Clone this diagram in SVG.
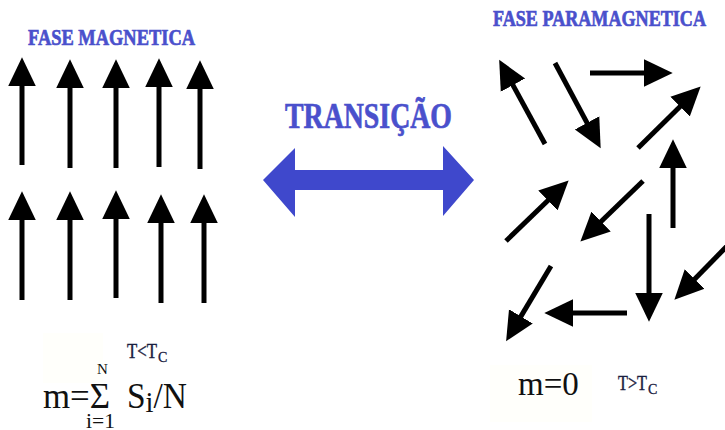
<svg xmlns="http://www.w3.org/2000/svg" width="725" height="430" viewBox="0 0 725 430">
<style>
.t{font-family:"Liberation Serif","Times New Roman",serif;}
.title{font-family:"Liberation Serif","Times New Roman",serif;font-weight:bold;fill:#4a50cc;stroke:#4a50cc;stroke-width:0.7;}
.spin{stroke:#000;stroke-width:5;fill:none;marker-end:url(#head);}
</style>
<defs>
<marker id="head" markerUnits="userSpaceOnUse" markerWidth="30" markerHeight="30" viewBox="0 -13 26 26" refX="1" refY="0" orient="auto">
<path d="M0,-12 L25,0 L0,12 Z" fill="#000"/>
</marker>
</defs>
<rect width="725" height="430" fill="#fff"/>

<g id="titles">
<text class="title" x="28" y="45" font-size="23" textLength="167" lengthAdjust="spacingAndGlyphs">FASE MAGNETICA</text>
<text class="title" x="493" y="26" font-size="23" textLength="213" lengthAdjust="spacingAndGlyphs">FASE PARAMAGNETICA</text>
<text class="title" x="285" y="128" font-size="35" textLength="167" lengthAdjust="spacingAndGlyphs">TRANSIÇÃO</text>
</g>

<g id="transition-arrow">
<path d="M263,180 L295,148 L295,170 L443,170 L443,146 L474,180 L443,216 L443,190 L295,190 L295,217 Z" fill="#3f48cc"/>
</g>

<g id="ferro-spins">
<path class="spin" d="M22,165 L22,85"/>
<path class="spin" d="M70,168 L70,87"/>
<path class="spin" d="M116,168 L116,87"/>
<path class="spin" d="M159,167 L159,86"/>
<path class="spin" d="M200,169 L200,88"/>
<path class="spin" d="M22,300 L22,219"/>
<path class="spin" d="M70,300 L70,219"/>
<path class="spin" d="M116,298 L116,218"/>
<path class="spin" d="M161,303 L161,222"/>
<path class="spin" d="M204,303 L204,222"/>
</g>

<g id="para-spins">
<path class="spin" d="M545,144 L512.4,84.1"/>
<path class="spin" d="M555,63 L587.6,123.9"/>
<path class="spin" d="M590,73 L645,73"/>
<path class="spin" d="M638,148 L680.9,105.8"/>
<path class="spin" d="M506,241 L548.7,199.7"/>
<path class="spin" d="M643,181 L600.3,222.3"/>
<path class="spin" d="M673,228 L673,167"/>
<path class="spin" d="M649,214 L649,294"/>
<path class="spin" d="M735,238 L693.8,279.9"/>
<path class="spin" d="M627,313 L572,313"/>
<path class="spin" d="M551,266 L520.3,317.4"/>
</g>

<g id="formula-left">
<rect x="43" y="333" width="60" height="50" fill="#fffffb"/>
<text class="t" x="43" y="408" font-size="36" fill="#111" textLength="67" lengthAdjust="spacingAndGlyphs">m=Σ</text>
<text class="t" x="97" y="374" font-size="15" fill="#111">N</text>
<text class="t" x="86" y="428" font-size="20" fill="#111" textLength="29" lengthAdjust="spacingAndGlyphs">i=1</text>
<text class="t" x="127" y="408" font-size="35" fill="#111" textLength="60" lengthAdjust="spacingAndGlyphs">S<tspan font-size="30" dy="4">i</tspan><tspan dy="-4">/N</tspan></text>
<text class="t" x="127" y="358" font-size="20" fill="#1a2040" stroke="#1a2040" stroke-width="0.4" textLength="30" lengthAdjust="spacingAndGlyphs">T&lt;T</text>
<text class="t" x="158" y="362" font-size="14" fill="#1a2040" stroke="#1a2040" stroke-width="0.3">C</text>
</g>

<g id="formula-right">
<rect x="490" y="365" width="102" height="57" fill="#fffffb"/>
<text class="t" x="518" y="395" font-size="33" fill="#111">m=0</text>
<text class="t" x="618" y="390" font-size="20" fill="#1a2040" stroke="#1a2040" stroke-width="0.4" textLength="29" lengthAdjust="spacingAndGlyphs">T&gt;T</text>
<text class="t" x="648" y="394" font-size="14" fill="#1a2040" stroke="#1a2040" stroke-width="0.3">C</text>
</g>
</svg>
